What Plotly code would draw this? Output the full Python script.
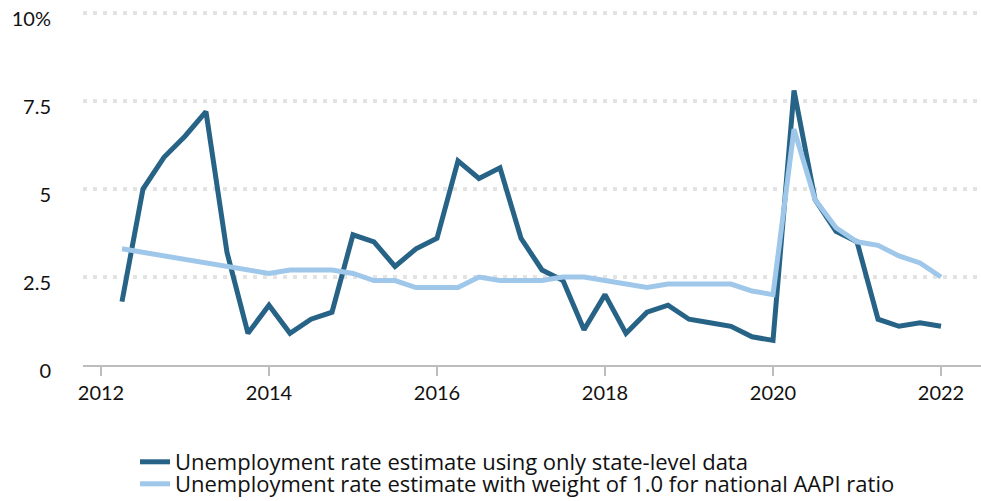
import plotly.graph_objects as go

# Quarterly observations, 2012 Q2 through 2022 Q1 (decimal years)
quarters = [2012.25 + 0.25 * i for i in range(40)]

state_only = [
    1.8, 5.0, 5.9, 6.5, 7.2, 3.2, 0.9, 1.7,
    0.9, 1.3, 1.5, 3.7, 3.5, 2.8, 3.3, 3.6,
    5.8, 5.3, 5.6, 3.6, 2.7, 2.4, 1.0, 2.0,
    0.9, 1.5, 1.7, 1.3, 1.2, 1.1, 0.8, 0.7,
    7.8, 4.7, 3.8, 3.5, 1.3, 1.1, 1.2, 1.1,
]

national_weight = [
    3.3, 3.2, 3.1, 3.0, 2.9, 2.8, 2.7, 2.6,
    2.7, 2.7, 2.7, 2.6, 2.4, 2.4, 2.2, 2.2,
    2.2, 2.5, 2.4, 2.4, 2.4, 2.5, 2.5, 2.4,
    2.3, 2.2, 2.3, 2.3, 2.3, 2.3, 2.1, 2.0,
    6.7, 4.7, 3.9, 3.5, 3.4, 3.1, 2.9, 2.5,
]

x_ticks = [2012, 2014, 2016, 2018, 2020, 2022]
y_ticks = [0, 2.5, 5, 7.5, 10]
y_tick_text = ["0", "2.5", "5", "7.5", "10%"]

names = [
    "Unemployment rate estimate using only state-level data",
    "Unemployment rate estimate with weight of 1.0 for national AAPI ratio",
]

DARK = "#266386"
LIGHT = "#9fc7ea"
FONT = "Lato"
LEGEND_FONT = dict(family="Open Sans", size=22, color="#111111")

fig = go.Figure()
fig.add_trace(go.Scatter(
    x=quarters, y=state_only, mode="lines", name=names[0],
    line=dict(color=DARK, width=5), legend="legend",
))
fig.add_trace(go.Scatter(
    x=quarters, y=national_weight, mode="lines", name=names[1],
    line=dict(color=LIGHT, width=5), legend="legend2",
))

# one legend per series so the two rows can sit tightly stacked
legend_common = dict(
    xref="container", yref="container", x=0.1376, xanchor="left",
    yanchor="middle", font=LEGEND_FONT, bgcolor="rgba(0,0,0,0)",
    itemwidth=30,
)

fig.update_layout(
    width=981, height=501,
    margin=dict(l=83, r=0, t=9, b=136, autoexpand=False),
    plot_bgcolor="white", paper_bgcolor="white",
    font=dict(family=FONT, size=20, color="#111111"),
    showlegend=True,
    legend=dict(y=1 - 462 / 501, **legend_common),
    legend2=dict(y=1 - 484 / 501, **legend_common),
    xaxis=dict(
        range=[2011.786, 2022.476],
        tickmode="array", tickvals=x_ticks, ticktext=[str(v) for v in x_ticks],
        showgrid=False, zeroline=False,
        showline=True, linecolor="#bdbdbd", linewidth=2,
        ticks="outside", ticklen=9, tickwidth=2, tickcolor="#bdbdbd",
        tickfont=dict(family=FONT, size=20),
    ),
    yaxis=dict(
        range=[0, 10.114],
        tickmode="array", tickvals=y_ticks, ticktext=y_tick_text,
        showgrid=True, gridcolor="#e3e3e3", gridwidth=4, griddash="4px,6px",
        zeroline=False, showline=False, ticks="", ticklabelstandoff=31,
        ticklabelshift=6,
        tickfont=dict(family=FONT, size=20),
    ),
)

fig.write_html("out.html")
